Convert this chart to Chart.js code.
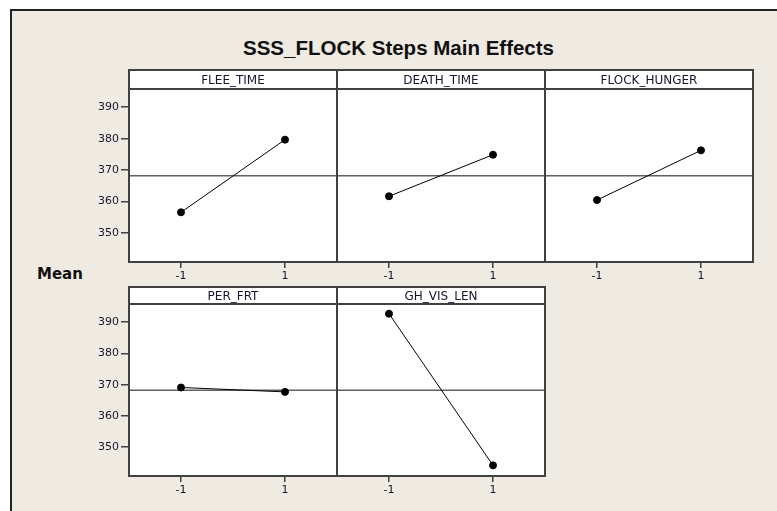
<!DOCTYPE html>
<html>
<head>
<meta charset="utf-8">
<script src="https://cdn.jsdelivr.net/npm/chart.js@4.4.0/dist/chart.umd.min.js"></script>
<style>
  body { margin: 0; background: #fff; }
  #page { position: relative; width: 777px; height: 511px; overflow: hidden; }
  #frame { position: absolute; left: 10px; top: 9px; width: 767px; height: 502px; background: #efebe2;
           border-top: 2px solid #222; border-left: 2px solid #222; box-sizing: border-box; }
  #title { position: absolute; left: 0; top: 36px; width: 797px; text-align: center; line-height: 1;
           font: bold 20.5px "Liberation Sans", sans-serif; color: #111; }
  #meanLabel { position: absolute; left: 37px; top: 265px; line-height: 1;
               font: bold 15px "DejaVu Sans", sans-serif; color: #111; }
  canvas { position: absolute; }
</style>
</head>
<body>
<div id="page">
  <div id="frame"></div>
  <div id="title">SSS_FLOCK Steps Main Effects</div>
  <div id="meanLabel">Mean</div>
</div>
<script>
// main effects data
const factors = ["FLEE_TIME", "DEATH_TIME", "FLOCK_HUNGER", "PER_FRT", "GH_VIS_LEN"];
const levels = [-1, 1];
const fleeTime = [356.6, 379.7];
const deathTime = [361.7, 374.9];
const flockHunger = [360.5, 376.3];
const perFrt = [369.1, 367.7];
const ghVisLen = [392.7, 344.2];
const grandMean = 368.2;
const yTicks = [350, 360, 370, 380, 390];

const seriesValues = [fleeTime, deathTime, flockHunger, perFrt, ghVisLen];

// panel boxes on the page
const panels = [
    { left: 129, right: 337, head: 70, top: 89, bottom: 262, showY: true },
    { left: 337, right: 545, head: 70, top: 89, bottom: 262, showY: false },
    { left: 545, right: 753, head: 70, top: 89, bottom: 262, showY: false },
    { left: 129, right: 337, head: 287, top: 304, bottom: 476, showY: true },
    { left: 337, right: 545, head: 287, top: 304, bottom: 476, showY: false }
];

const lineCol = "#404040";
const textCol = "#161630";

const panelFrame = {
    id: "panelFrame",
    beforeDraw(chart) {
        const ctx = chart.ctx, a = chart.chartArea;
        ctx.save();
        ctx.fillStyle = "#fff";
        ctx.fillRect(a.left, 1, a.right - a.left, a.bottom - 1);
        ctx.restore();
    },
    afterDraw(chart) {
        const ctx = chart.ctx, a = chart.chartArea;
        ctx.save();
        ctx.strokeStyle = lineCol;
        ctx.lineWidth = 2;
        ctx.strokeRect(a.left, 1, a.right - a.left, a.bottom - 1);
        ctx.beginPath();
        ctx.moveTo(a.left, a.top);
        ctx.lineTo(a.right, a.top);
        ctx.stroke();
        ctx.fillStyle = textCol;
        ctx.font = "12px 'DejaVu Sans'";
        ctx.textAlign = "center";
        ctx.textBaseline = "middle";
        ctx.fillText(chart.options.plugins.panelFrame.label, (a.left + a.right) / 2, (1 + a.top) / 2 + 1);
        ctx.restore();
    }
};

panels.forEach((p, i) => {
    const yW = p.showY ? 40 : 0;
    const xH = 26;
    const canvas = document.createElement("canvas");
    canvas.width = yW + (p.right - p.left) + 1;
    canvas.height = (p.top - p.head + 1) + (p.bottom - p.top) + xH;
    canvas.style.left = (p.left - yW) + "px";
    canvas.style.top = (p.head - 1) + "px";
    document.getElementById("page").appendChild(canvas);

    const vals = seriesValues[i];

    new Chart(canvas.getContext("2d"), {
        type: "line",
        data: {
            datasets: [
                {
                    data: levels.map((lv, k) => ({ x: lv, y: vals[k] })),
                    borderColor: "#000",
                    borderWidth: 1,
                    pointRadius: 3.5,
                    pointBackgroundColor: "#000",
                    pointBorderColor: "#000",
                    order: 1
                },
                {
                    data: [{ x: -2, y: grandMean }, { x: 2, y: grandMean }],
                    borderColor: "#606060",
                    borderWidth: 1.5,
                    pointRadius: 0,
                    order: 2
                }
            ]
        },
        plugins: [panelFrame],
        options: {
            responsive: false,
            animation: false,
            devicePixelRatio: 1,
            layout: { autoPadding: false, padding: { top: p.top - p.head + 1, right: 1, left: 0, bottom: 0 } },
            plugins: {
                legend: { display: false },
                tooltip: { enabled: false },
                panelFrame: { label: factors[i] }
            },
            scales: {
                x: {
                    type: "linear",
                    min: -2,
                    max: 2,
                    afterBuildTicks: s => { s.ticks = levels.map(v => ({ value: v })); },
                    afterFit: s => { s.height = xH; },
                    grid: { drawOnChartArea: false, drawTicks: true, tickLength: 6, color: lineCol, lineWidth: 1.5 },
                    border: { display: false },
                    ticks: { color: textCol, font: { family: "DejaVu Sans", size: 11 }, padding: 2, maxRotation: 0 }
                },
                y: {
                    min: 340.8,
                    max: 395.8,
                    afterBuildTicks: s => { s.ticks = yTicks.map(v => ({ value: v })); },
                    afterFit: s => { s.width = yW; },
                    grid: { display: p.showY, drawOnChartArea: false, drawTicks: true, tickLength: 8, color: lineCol, lineWidth: 1.5 },
                    border: { display: false },
                    ticks: { display: p.showY, color: textCol, font: { family: "DejaVu Sans", size: 11 }, padding: 2 }
                }
            }
        }
    });
});
</script>
</body>
</html>
